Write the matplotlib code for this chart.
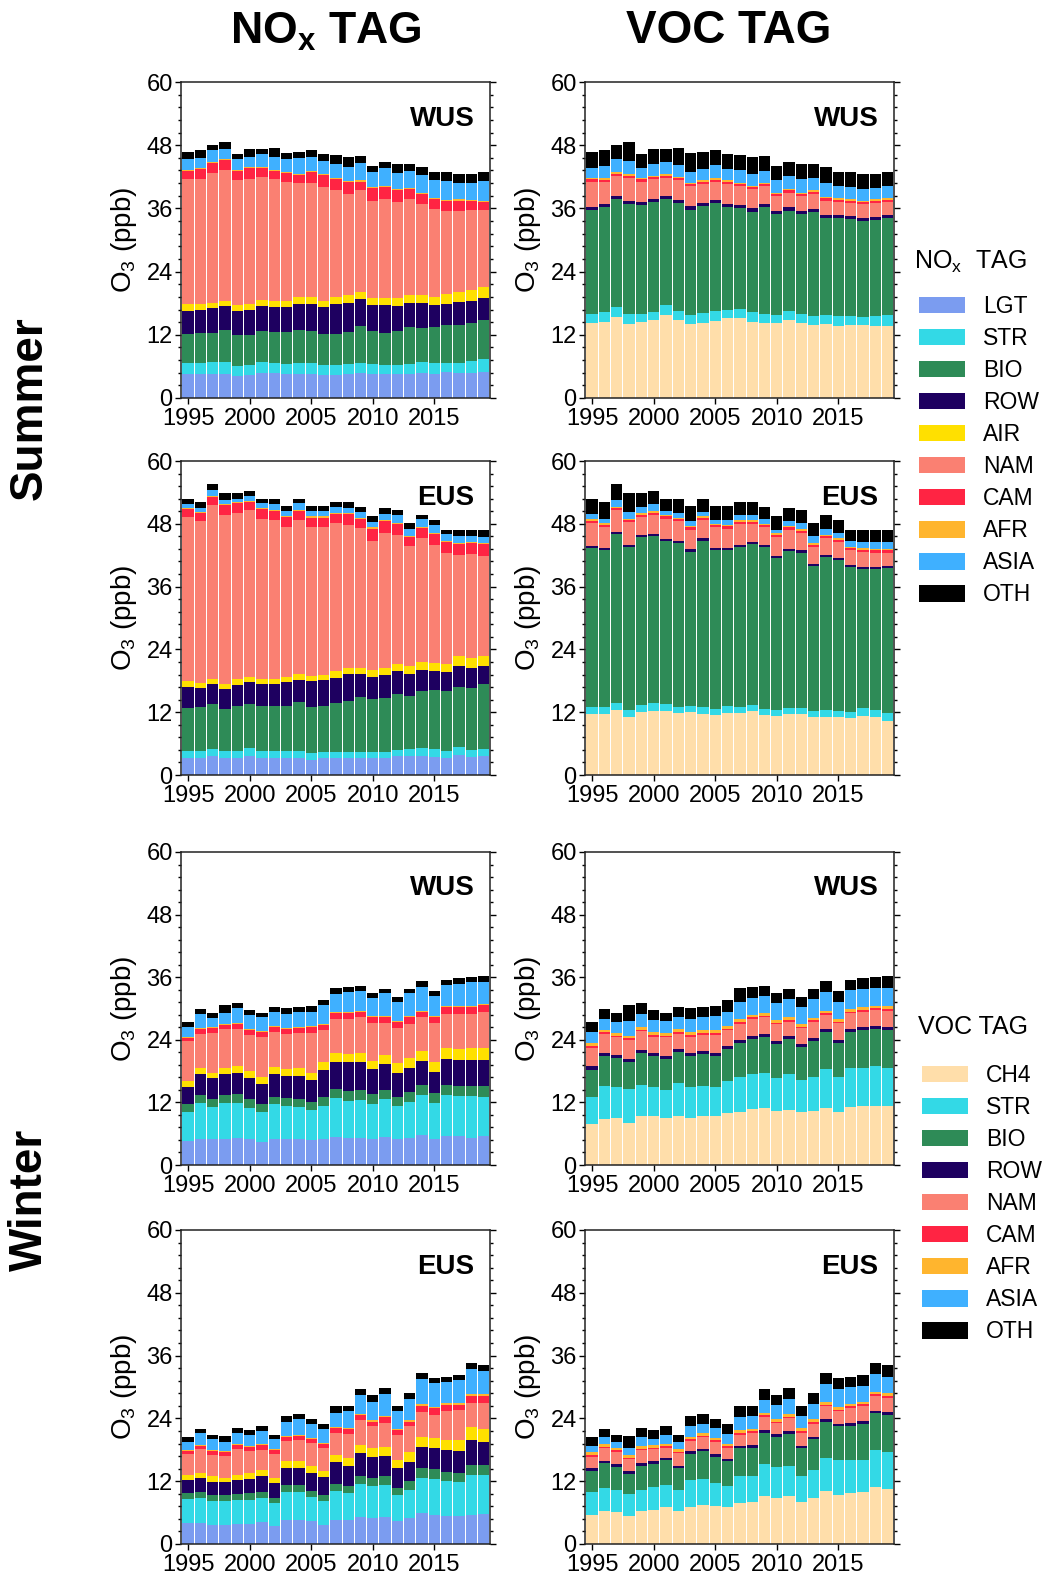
import matplotlib
matplotlib.use("Agg")
import matplotlib.pyplot as plt
from matplotlib.patches import Patch
from matplotlib.ticker import MultipleLocator
import numpy as np

plt.rcParams['font.family'] = ['Liberation Sans', 'DejaVu Sans']
plt.rcParams['mathtext.fontset'] = 'custom'
plt.rcParams['mathtext.rm'] = 'Liberation Sans'
plt.rcParams['mathtext.bf'] = 'Liberation Sans:bold'
plt.rcParams['mathtext.default'] = 'regular'

years = list(range(1995, 2020))

nox_tags = ['LGT', 'STR', 'BIO', 'ROW', 'AIR', 'NAM', 'CAM', 'AFR', 'ASIA', 'OTH']
nox_colors = ['#7b9cf0', '#33d9e6', '#2e8b57', '#1e0060', '#ffe000',
              '#fa8072', '#ff2443', '#ffb52e', '#3fb0ff', '#000000']
voc_tags = ['CH4', 'STR', 'BIO', 'ROW', 'NAM', 'CAM', 'AFR', 'ASIA', 'OTH']
voc_colors = ['#ffdeaa', '#33d9e6', '#2e8b57', '#1e0060',
              '#fa8072', '#ff2443', '#ffb52e', '#3fb0ff', '#000000']

# total O3 (top of the OTH band), shared by the NOx and VOC panels
total_summer_wus = [46.8, 47.1, 48.0, 48.7, 46.4, 47.3, 47.3, 47.5, 46.6, 46.8, 47.0, 46.4, 46.1,
                    45.7, 45.9, 44.1, 44.8, 44.4, 44.5, 43.8, 43.0, 42.9, 42.6, 42.6, 43.0]
total_summer_eus = [52.8, 52.2, 55.7, 53.9, 53.8, 54.3, 52.7, 52.7, 51.4, 52.8, 51.4, 51.4, 52.2,
                    52.2, 51.2, 49.5, 51.0, 50.6, 48.2, 49.7, 48.7, 46.9, 46.8, 46.8, 46.8]
total_winter_wus = [27.4, 29.9, 29.1, 30.6, 31.1, 29.7, 29.2, 30.3, 30.1, 30.3, 30.4, 31.6, 34.0,
                    34.1, 34.4, 32.9, 33.8, 32.2, 33.8, 35.2, 33.4, 35.5, 35.8, 36.0, 36.2]
total_winter_eus = [20.4, 22.0, 20.9, 20.7, 22.2, 21.8, 22.5, 20.9, 24.5, 24.8, 23.9, 22.9, 26.4,
                    26.3, 29.7, 28.5, 29.8, 26.4, 28.8, 32.6, 31.8, 31.9, 32.3, 34.5, 34.2]

# cumulative top of each tag band (ppb), bottom to top, OTH top = total
nox_summer_wus = [
    [4.6, 4.6, 4.5, 4.6, 4.2, 4.4, 4.8, 4.7, 4.5, 4.5, 4.5, 4.4, 4.4, 4.5, 4.8, 4.6, 4.5, 4.5, 4.5, 4.8, 4.5, 4.9, 4.8, 4.8, 5.0],
    [6.7, 6.7, 6.8, 6.8, 6.1, 6.2, 6.8, 6.7, 6.4, 6.6, 6.6, 6.2, 6.3, 6.5, 6.7, 6.4, 6.3, 6.2, 6.4, 6.9, 6.7, 6.7, 6.7, 7.0, 7.4],
    [12.2, 12.4, 12.3, 12.9, 11.9, 12.0, 12.7, 12.6, 12.6, 12.9, 12.8, 12.1, 12.2, 12.6, 13.7, 12.8, 12.4, 12.8, 13.5, 13.3, 13.4, 13.8, 13.9, 14.2, 14.8],
    [16.6, 16.8, 17.0, 17.4, 16.5, 16.7, 17.4, 17.2, 17.3, 17.9, 17.8, 17.2, 17.9, 18.1, 18.8, 17.6, 17.6, 17.5, 18.0, 18.0, 17.6, 17.9, 18.3, 18.5, 18.9],
    [17.8, 17.9, 18.1, 18.5, 17.6, 17.9, 18.7, 18.5, 18.5, 19.2, 19.2, 18.5, 19.2, 19.5, 20.2, 19.0, 19.0, 18.9, 19.5, 19.6, 19.2, 19.7, 20.2, 20.5, 21.1],
    [41.5, 41.5, 42.8, 43.2, 41.3, 41.6, 41.9, 41.5, 41.1, 40.8, 40.8, 40.1, 39.4, 38.7, 39.5, 37.5, 37.7, 37.2, 37.8, 36.8, 35.9, 35.6, 35.6, 35.7, 35.7],
    [43.1, 43.4, 44.6, 45.1, 43.1, 43.6, 43.7, 43.1, 42.8, 42.4, 42.9, 42.4, 41.5, 41.0, 41.1, 39.9, 40.1, 39.5, 39.7, 38.7, 37.8, 37.4, 37.5, 37.4, 37.3],
    [43.3, 43.6, 44.8, 45.3, 43.3, 43.8, 43.9, 43.3, 43.0, 42.6, 43.1, 42.6, 41.7, 41.2, 41.3, 40.1, 40.3, 39.7, 39.9, 38.9, 38.0, 37.6, 37.7, 37.6, 37.5],
    [45.4, 45.6, 47.0, 47.3, 45.3, 45.8, 46.3, 45.8, 45.3, 45.5, 45.8, 45.0, 44.5, 43.9, 44.6, 42.9, 43.6, 42.7, 43.1, 42.4, 41.4, 41.2, 40.9, 40.9, 41.2],
    total_summer_wus,
]
voc_summer_wus = [
    [14.3, 14.5, 15.3, 14.0, 14.4, 14.9, 15.8, 14.9, 14.0, 14.3, 14.7, 15.2, 15.2, 14.5, 14.3, 14.2, 14.9, 14.3, 13.9, 14.0, 13.7, 13.9, 13.8, 13.7, 13.7],
    [15.9, 16.3, 17.3, 15.9, 16.0, 16.4, 17.6, 16.5, 15.7, 16.1, 16.5, 16.7, 16.9, 16.3, 16.0, 15.7, 16.6, 15.9, 15.5, 15.8, 15.6, 15.5, 15.4, 15.6, 15.7],
    [35.7, 36.3, 37.7, 36.8, 36.6, 37.2, 37.7, 37.0, 35.7, 36.5, 37.1, 36.3, 36.1, 35.4, 36.3, 34.9, 35.5, 34.9, 35.3, 34.2, 34.2, 34.0, 33.7, 33.8, 34.2],
    [36.3, 36.9, 38.3, 37.5, 37.2, 37.8, 38.4, 37.6, 36.5, 37.1, 37.6, 36.9, 36.7, 36.1, 36.9, 35.5, 36.2, 35.6, 35.9, 34.7, 34.7, 34.5, 34.2, 34.3, 34.7],
    [41.1, 41.0, 42.2, 41.8, 41.1, 41.5, 41.8, 41.3, 40.2, 40.6, 41.0, 40.6, 40.2, 39.6, 40.2, 38.3, 39.0, 38.3, 38.8, 37.5, 37.2, 37.0, 36.8, 37.0, 37.2],
    [41.5, 41.4, 42.6, 42.2, 41.5, 41.9, 42.2, 41.7, 40.6, 41.0, 41.4, 41.0, 40.6, 40.0, 40.6, 38.7, 39.4, 38.7, 39.2, 37.9, 37.6, 37.4, 37.2, 37.4, 37.6],
    [41.8, 41.7, 42.9, 42.5, 41.8, 42.2, 42.5, 42.0, 40.9, 41.3, 41.7, 41.3, 40.9, 40.3, 40.9, 39.0, 39.7, 39.0, 39.5, 38.2, 37.9, 37.7, 37.5, 37.7, 37.9],
    [43.6, 44.0, 45.3, 45.0, 43.6, 44.4, 44.8, 44.3, 43.0, 43.5, 44.2, 43.4, 43.2, 42.5, 43.1, 41.4, 42.2, 41.5, 41.8, 40.8, 40.3, 40.1, 39.7, 39.8, 40.3],
    total_summer_wus,
]
nox_summer_eus = [
    [3.2, 3.2, 3.6, 3.2, 3.2, 3.6, 3.2, 3.2, 3.3, 3.2, 2.9, 3.2, 3.2, 3.2, 3.2, 3.3, 3.2, 3.6, 3.6, 3.6, 3.4, 3.2, 3.8, 3.5, 3.6],
    [4.6, 4.6, 5.0, 4.6, 4.6, 5.2, 4.5, 4.5, 4.6, 4.6, 4.2, 4.4, 4.4, 4.4, 4.3, 4.4, 4.4, 4.8, 5.0, 5.1, 5.0, 4.5, 5.4, 4.8, 5.0],
    [12.8, 12.9, 13.5, 12.7, 13.1, 13.6, 13.1, 13.2, 13.2, 14.0, 13.0, 13.2, 13.7, 14.2, 14.9, 14.6, 14.7, 15.5, 15.1, 16.0, 16.2, 16.0, 16.8, 16.6, 17.3],
    [16.9, 16.7, 17.3, 16.4, 17.2, 17.7, 17.3, 17.3, 17.7, 18.1, 18.0, 18.1, 18.6, 19.3, 19.3, 18.8, 19.1, 19.8, 19.3, 20.1, 19.9, 19.7, 20.9, 20.5, 20.9],
    [17.9, 17.6, 18.3, 17.4, 18.3, 18.8, 18.4, 18.4, 18.7, 19.3, 18.9, 19.1, 19.8, 20.5, 20.4, 20.0, 20.4, 21.2, 20.8, 21.6, 21.4, 21.3, 22.7, 22.4, 22.7],
    [49.3, 48.5, 51.6, 49.7, 50.1, 50.6, 49.0, 48.7, 47.3, 48.7, 47.4, 47.4, 48.2, 47.7, 47.2, 44.8, 46.3, 45.8, 43.7, 45.2, 43.9, 42.4, 42.1, 42.2, 41.9],
    [50.8, 50.1, 53.2, 51.6, 52.0, 52.2, 50.8, 50.5, 49.3, 50.4, 49.2, 49.2, 49.8, 49.8, 49.0, 47.1, 48.5, 48.0, 45.5, 47.2, 46.1, 44.5, 44.2, 44.4, 44.1],
    [51.0, 50.3, 53.4, 51.8, 52.2, 52.4, 51.0, 50.7, 49.5, 50.6, 49.4, 49.4, 50.0, 50.0, 49.2, 47.3, 48.7, 48.2, 45.7, 47.4, 46.3, 44.7, 44.4, 44.6, 44.3],
    [51.7, 51.1, 54.4, 52.5, 52.8, 53.3, 51.9, 51.8, 50.4, 51.9, 50.4, 50.5, 51.3, 51.1, 50.3, 48.3, 49.9, 49.6, 47.1, 49.0, 47.7, 46.1, 45.7, 45.7, 45.5],
    total_summer_eus,
]
voc_summer_eus = [
    [11.7, 11.6, 12.4, 11.1, 12.0, 12.2, 12.3, 11.9, 12.1, 11.7, 11.5, 11.9, 11.8, 12.2, 11.5, 11.3, 11.7, 11.6, 11.1, 11.1, 11.0, 10.8, 11.3, 11.1, 10.4],
    [12.9, 12.9, 13.7, 12.5, 13.4, 13.7, 13.5, 13.0, 13.2, 13.0, 12.7, 13.1, 13.0, 13.4, 12.6, 12.5, 12.8, 12.8, 12.3, 12.5, 12.3, 12.0, 12.8, 12.4, 11.8],
    [43.4, 42.9, 46.1, 43.6, 45.4, 45.7, 44.7, 44.3, 42.6, 44.8, 42.9, 42.9, 43.6, 44.1, 43.6, 41.5, 42.8, 42.5, 39.9, 41.7, 41.0, 39.8, 39.4, 39.4, 39.6],
    [43.8, 43.3, 46.5, 44.0, 45.8, 46.1, 45.1, 44.7, 43.1, 45.2, 43.3, 43.3, 44.0, 44.5, 44.0, 41.9, 43.2, 42.9, 40.3, 42.1, 41.4, 40.2, 39.8, 39.8, 40.0],
    [48.2, 47.4, 50.6, 48.3, 49.3, 49.7, 49.0, 48.5, 46.9, 48.8, 47.3, 47.1, 48.0, 48.0, 47.3, 45.5, 46.9, 46.3, 43.6, 45.2, 44.5, 42.9, 42.6, 42.5, 42.5],
    [48.6, 47.8, 51.0, 48.7, 49.7, 50.1, 49.4, 48.9, 47.3, 49.2, 47.7, 47.5, 48.4, 48.4, 47.7, 45.9, 47.3, 46.7, 44.0, 45.6, 44.9, 43.3, 43.0, 42.9, 42.9],
    [48.9, 48.1, 51.3, 49.0, 50.0, 50.4, 49.7, 49.2, 47.6, 49.5, 48.0, 47.8, 48.7, 48.7, 48.0, 46.2, 47.6, 47.0, 44.3, 45.9, 45.2, 43.6, 43.3, 43.2, 43.2],
    [49.8, 49.0, 52.5, 50.3, 51.2, 51.7, 50.4, 50.1, 48.5, 50.3, 48.7, 48.8, 49.7, 49.6, 49.0, 46.8, 48.5, 48.1, 45.6, 47.1, 46.3, 44.7, 44.5, 44.5, 44.5],
    total_summer_eus,
]
nox_winter_wus = [
    [4.6, 5.0, 4.9, 5.0, 5.2, 4.9, 4.5, 4.9, 4.9, 4.9, 4.7, 4.9, 5.4, 5.2, 5.2, 5.0, 5.4, 4.9, 5.2, 5.7, 4.9, 5.6, 5.5, 5.2, 5.6],
    [10.2, 11.8, 11.1, 11.9, 11.9, 10.9, 10.1, 11.6, 11.3, 11.1, 10.6, 11.4, 12.8, 12.3, 12.5, 11.7, 12.6, 11.4, 12.1, 13.4, 11.9, 13.5, 13.2, 13.3, 13.1],
    [11.7, 13.4, 12.7, 13.5, 13.6, 12.6, 11.6, 13.1, 12.9, 12.7, 12.1, 13.1, 14.6, 14.1, 14.4, 13.6, 14.4, 13.1, 14.0, 15.4, 13.8, 15.4, 15.2, 15.2, 15.1],
    [15.0, 17.4, 16.6, 17.5, 17.7, 16.7, 15.6, 17.5, 17.1, 17.1, 16.2, 18.2, 19.8, 19.7, 19.7, 18.4, 19.4, 17.7, 18.6, 20.0, 17.9, 20.4, 20.1, 20.1, 20.1],
    [16.1, 18.5, 17.7, 18.6, 19.0, 18.1, 16.9, 18.8, 18.4, 18.5, 17.6, 19.7, 21.5, 21.2, 21.4, 20.0, 21.1, 19.5, 20.5, 21.9, 19.8, 22.5, 22.2, 22.5, 22.5],
    [23.7, 25.2, 25.3, 26.0, 26.0, 24.9, 24.6, 25.4, 25.1, 25.3, 25.3, 25.9, 28.0, 28.0, 28.3, 27.3, 27.3, 26.2, 27.1, 28.3, 27.2, 29.0, 29.0, 29.0, 29.4],
    [24.4, 26.0, 26.2, 26.9, 27.1, 25.8, 25.5, 26.4, 26.0, 26.3, 26.5, 26.9, 29.2, 29.2, 29.4, 28.3, 28.4, 27.4, 28.3, 29.4, 28.3, 30.2, 30.2, 30.2, 30.6],
    [24.6, 26.2, 26.4, 27.1, 27.3, 26.0, 25.7, 26.6, 26.2, 26.5, 26.7, 27.1, 29.4, 29.4, 29.6, 28.5, 28.6, 27.6, 28.5, 29.6, 28.5, 30.4, 30.4, 30.4, 30.8],
    [26.5, 28.9, 28.1, 29.2, 30.1, 28.7, 28.4, 29.4, 29.0, 29.4, 29.4, 30.6, 32.7, 33.1, 33.4, 32.0, 32.9, 31.3, 32.9, 34.1, 32.4, 34.6, 34.7, 35.0, 35.1],
    total_winter_wus,
]
voc_winter_wus = [
    [7.8, 8.8, 9.0, 8.0, 9.3, 9.3, 9.1, 9.4, 9.1, 9.4, 9.4, 9.9, 10.1, 10.7, 10.9, 10.3, 10.6, 10.1, 10.4, 11.0, 10.2, 11.2, 11.4, 11.4, 11.4],
    [13.1, 15.2, 14.9, 14.5, 15.4, 14.9, 14.4, 15.8, 14.9, 15.2, 14.9, 16.1, 16.9, 17.4, 17.7, 16.7, 17.4, 16.3, 16.9, 18.4, 16.9, 18.6, 18.6, 18.9, 18.5],
    [18.3, 20.9, 20.5, 19.8, 21.5, 20.8, 20.3, 21.6, 20.8, 21.3, 20.9, 22.2, 23.4, 24.1, 24.6, 23.2, 24.1, 22.6, 23.7, 25.4, 23.3, 25.5, 25.8, 26.0, 25.9],
    [18.9, 21.5, 21.1, 20.4, 22.1, 21.4, 20.9, 22.2, 21.4, 21.9, 21.5, 22.8, 24.0, 24.7, 25.2, 23.8, 24.7, 23.2, 24.3, 26.0, 23.9, 26.1, 26.4, 26.6, 26.5],
    [22.5, 25.1, 24.5, 24.0, 25.6, 24.6, 24.5, 25.2, 24.6, 25.0, 25.0, 25.8, 27.1, 28.0, 28.3, 27.0, 27.5, 26.2, 27.4, 28.8, 27.2, 29.1, 29.4, 29.7, 29.6],
    [22.8, 25.4, 24.8, 24.3, 25.9, 24.9, 24.8, 25.5, 24.9, 25.3, 25.3, 26.1, 27.4, 28.3, 28.6, 27.3, 27.8, 26.5, 27.7, 29.1, 27.5, 29.4, 29.7, 30.0, 29.9],
    [23.3, 25.9, 25.3, 24.8, 26.4, 25.4, 25.3, 26.0, 25.4, 25.8, 25.8, 26.6, 27.9, 28.8, 29.1, 27.8, 28.3, 27.0, 28.2, 29.6, 28.0, 29.9, 30.2, 30.5, 30.4],
    [25.5, 27.9, 27.4, 27.6, 28.9, 27.7, 27.6, 28.3, 27.9, 28.3, 28.5, 29.4, 31.3, 32.0, 32.4, 31.0, 31.8, 30.3, 31.8, 33.2, 31.3, 33.5, 33.8, 34.0, 34.0],
    total_winter_wus,
]
nox_winter_eus = [
    [4.0, 4.0, 3.7, 3.6, 3.9, 3.9, 4.2, 3.4, 4.5, 4.5, 4.3, 3.7, 4.6, 4.5, 5.2, 4.9, 5.2, 4.3, 4.9, 5.9, 5.5, 5.3, 5.3, 5.6, 5.8],
    [8.6, 8.7, 8.2, 8.3, 8.4, 8.5, 8.7, 7.8, 9.9, 9.9, 9.0, 8.3, 10.2, 9.7, 11.5, 11.1, 11.3, 9.4, 10.4, 12.7, 12.5, 12.0, 11.8, 13.2, 13.2],
    [9.8, 10.0, 9.3, 9.4, 9.5, 9.7, 9.9, 8.8, 11.2, 11.2, 10.2, 9.4, 11.5, 11.0, 12.9, 12.6, 12.9, 10.7, 12.0, 14.5, 14.3, 13.7, 13.5, 15.1, 15.1],
    [12.3, 12.6, 11.9, 11.8, 12.2, 12.5, 13.0, 11.6, 14.5, 14.6, 13.6, 12.8, 15.6, 15.0, 17.4, 16.7, 16.9, 14.5, 15.7, 18.6, 18.3, 17.9, 17.7, 19.9, 19.5],
    [13.2, 13.5, 12.9, 12.7, 13.2, 13.5, 14.1, 12.6, 15.8, 15.9, 14.9, 14.0, 17.0, 16.4, 19.0, 18.3, 18.6, 16.0, 17.6, 20.5, 20.2, 19.8, 19.9, 22.3, 22.0],
    [17.2, 18.1, 17.1, 16.9, 18.2, 17.8, 18.0, 17.2, 19.7, 19.8, 19.3, 18.4, 21.2, 21.1, 23.6, 22.5, 23.2, 20.9, 22.5, 25.3, 24.7, 25.5, 25.6, 27.0, 27.0],
    [17.7, 18.8, 17.7, 17.5, 19.0, 18.6, 18.9, 17.9, 20.5, 20.7, 20.1, 19.1, 22.1, 21.9, 24.6, 23.4, 24.2, 21.7, 23.4, 26.4, 25.9, 26.6, 26.6, 28.2, 28.2],
    [18.0, 19.0, 18.0, 17.7, 19.2, 18.8, 19.1, 18.1, 20.7, 20.9, 20.3, 19.3, 22.3, 22.1, 24.8, 23.6, 24.4, 21.9, 23.6, 26.7, 26.2, 26.9, 26.9, 28.6, 28.6],
    [19.4, 21.2, 20.0, 19.4, 21.3, 20.9, 21.5, 20.1, 23.4, 23.8, 22.9, 21.9, 25.1, 25.4, 28.5, 27.2, 28.7, 25.4, 27.7, 31.6, 30.7, 30.9, 31.3, 33.4, 33.0],
    total_winter_eus,
]
voc_winter_eus = [
    [5.6, 6.4, 6.2, 5.3, 6.4, 6.5, 7.1, 6.3, 7.1, 7.4, 7.2, 7.0, 7.8, 8.1, 9.2, 8.8, 9.2, 8.1, 8.8, 10.1, 9.4, 9.7, 10.0, 10.8, 10.6],
    [10.0, 10.7, 10.4, 9.5, 10.4, 10.8, 11.3, 10.4, 12.3, 12.5, 11.7, 11.1, 13.0, 13.0, 15.2, 14.8, 14.9, 12.9, 14.1, 16.5, 16.0, 16.0, 16.0, 18.0, 17.6],
    [14.0, 15.4, 14.7, 13.4, 14.9, 15.3, 16.0, 14.5, 17.2, 17.7, 16.7, 15.8, 18.3, 18.4, 21.2, 20.5, 21.1, 18.3, 20.0, 23.4, 22.5, 22.6, 23.0, 25.0, 24.7],
    [14.5, 15.9, 15.2, 13.9, 15.4, 15.8, 16.5, 15.0, 17.7, 18.2, 17.2, 16.3, 18.8, 18.9, 21.7, 21.0, 21.6, 18.8, 20.5, 23.9, 23.0, 23.1, 23.5, 25.5, 25.2],
    [16.7, 18.3, 17.6, 16.2, 17.9, 18.1, 18.4, 17.3, 19.7, 20.4, 19.5, 18.4, 20.9, 21.2, 24.3, 23.1, 24.0, 21.3, 23.0, 26.3, 25.4, 26.0, 26.4, 28.3, 27.9],
    [17.0, 18.6, 17.9, 16.5, 18.2, 18.4, 18.7, 17.6, 20.0, 20.7, 19.8, 18.7, 21.2, 21.5, 24.6, 23.4, 24.3, 21.6, 23.3, 26.6, 25.7, 26.3, 26.7, 28.6, 28.2],
    [17.5, 19.1, 18.4, 17.0, 18.7, 18.9, 19.2, 18.1, 20.5, 21.2, 20.3, 19.2, 21.7, 22.0, 25.1, 23.9, 24.8, 22.1, 23.8, 27.1, 26.2, 26.8, 27.2, 29.1, 28.9],
    [18.8, 20.5, 19.5, 18.4, 20.4, 20.0, 20.9, 19.4, 22.5, 23.0, 22.1, 21.1, 24.2, 24.5, 27.6, 26.5, 27.8, 24.4, 26.8, 30.5, 29.7, 30.0, 30.2, 32.4, 31.9],
    total_winter_eus,
]


def draw_panel(ax, tops, colors, region):
    bottom = np.zeros(len(years))
    for top, c in zip(tops, colors):
        top = np.asarray(top, dtype=float)
        ax.bar(years, top - bottom, bottom=bottom, width=0.92, color=c, linewidth=0)
        bottom = top
    ax.set_xlim(1994.42, 2019.52)
    ax.set_ylim(0, 60)
    ax.yaxis.set_major_locator(MultipleLocator(12))
    ax.yaxis.set_minor_locator(MultipleLocator(2.4))
    ax.set_xticks([1995, 2000, 2005, 2010, 2015])
    ax.tick_params(axis='y', which='both', direction='out', left=True, right=True,
                   labelsize=17, width=1.0, pad=2)
    ax.tick_params(axis='y', which='major', length=4)
    ax.tick_params(axis='y', which='minor', length=2.5)
    ax.tick_params(axis='x', direction='out', length=4, width=1.0, labelsize=17, pad=3)
    ax.set_ylabel('O$_3$ (ppb)', fontsize=20, labelpad=5)
    for sp in ax.spines.values():
        sp.set_linewidth(1.1)
        sp.set_color('#222222')
    ax.text(0.95, 0.925, region, transform=ax.transAxes, ha='right', va='top',
            fontsize=20, fontweight='bold')


fig = plt.figure(figsize=(10.42, 15.76), dpi=100)

col_left = [181 / 1042, 585 / 1042]
col_width = 309 / 1042
row_px = [(82, 398), (461, 775), (852, 1165), (1230, 1544)]

panels = [
    (nox_summer_wus, voc_summer_wus, 'WUS'),
    (nox_summer_eus, voc_summer_eus, 'EUS'),
    (nox_winter_wus, voc_winter_wus, 'WUS'),
    (nox_winter_eus, voc_winter_eus, 'EUS'),
]

for (top_px, bot_px), (nox_data, voc_data, region) in zip(row_px, panels):
    b = 1 - bot_px / 1576
    h = (bot_px - top_px) / 1576
    ax1 = fig.add_axes([col_left[0], b, col_width, h])
    draw_panel(ax1, nox_data, nox_colors, region)
    ax2 = fig.add_axes([col_left[1], b, col_width, h])
    draw_panel(ax2, voc_data, voc_colors, region)

title_font = ['Liberation Sans Narrow', 'Liberation Sans', 'DejaVu Sans']
fig.text(326 / 1042, 1 - 32 / 1576, r'NO$_\mathbf{x}$ TAG', ha='center', va='center',
         fontsize=32, fontweight='bold', family=title_font)
fig.text(729 / 1042, 1 - 31 / 1576, 'VOC TAG', ha='center', va='center',
         fontsize=33, fontweight='bold', family=title_font)
fig.text(30 / 1042, 1 - 408 / 1576, 'Summer', rotation=90, ha='center', va='center',
         fontsize=33, fontweight='bold', family=title_font)
fig.text(30 / 1042, 1 - 1200 / 1576, 'Winter', rotation=90, ha='center', va='center',
         fontsize=33, fontweight='bold', family=title_font)

# legends: titles as separate text so the gap below them matches
fig.text(914 / 1042, 1 - 262 / 1576, 'NO$_x$  TAG', ha='left', va='center', fontsize=18)
fig.text(918 / 1042, 1 - 1027 / 1576, 'VOC TAG', ha='left', va='center', fontsize=18)

nox_handles = [Patch(facecolor=c, label=t) for t, c in zip(nox_tags, nox_colors)]
voc_handles = [Patch(facecolor=c, label=t) for t, c in zip(voc_tags, voc_colors)]
leg_kw = dict(loc='upper left', frameon=False, fontsize=16.5,
              handlelength=2.0, handleheight=0.72, labelspacing=0.395,
              handletextpad=0.8, borderpad=0, borderaxespad=0)
fig.legend(handles=nox_handles, bbox_to_anchor=(919 / 1042, 1 - 295 / 1576), **leg_kw)
fig.legend(handles=voc_handles, bbox_to_anchor=(922 / 1042, 1 - 1064 / 1576), **leg_kw)

fig.savefig('out.png', dpi=100)
